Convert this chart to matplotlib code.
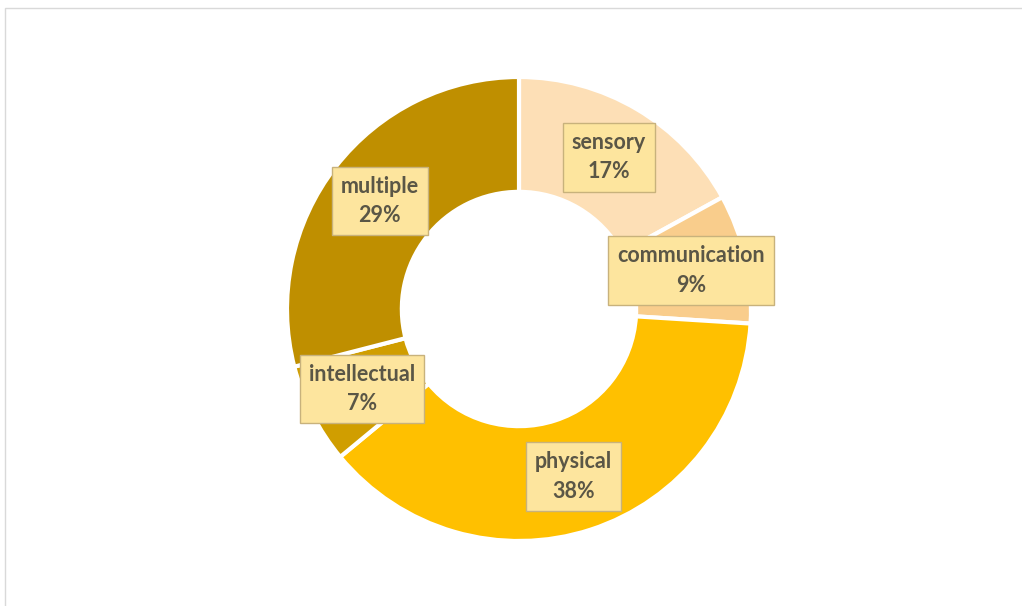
import matplotlib
matplotlib.use("Agg")
import matplotlib.pyplot as plt
from matplotlib.patches import Rectangle
import numpy as np

categories = ["sensory", "communication", "physical", "intellectual", "multiple"]
shares = [17, 9, 38, 7, 29]
colors = ["#FDDFB6", "#F9CD8C", "#FFC000", "#D09E00", "#BF8F00"]

W, H = 1022, 606
fig = plt.figure(figsize=(W / 100, H / 100), dpi=100)
fig.patch.set_facecolor("white")

# chart-area frame
fig.add_artist(Rectangle((5 / W, -0.01), 1.02, (H - 8) / H + 0.01,
                         transform=fig.transFigure, fill=False,
                         edgecolor="#D9D9D9", linewidth=1.0))

# donut centre and outer radius in pixels
cx, cy, R = 519, 309, 232
ax = fig.add_axes([(cx - R) / W, (H - cy - R) / H, 2 * R / W, 2 * R / H])
ax.axis("off")

wedges, _ = ax.pie(shares, colors=colors, startangle=90, counterclock=False,
                   radius=1.0,
                   wedgeprops=dict(width=0.495, edgecolor="white", linewidth=3))
ax.set_xlim(-1, 1)
ax.set_ylim(-1, 1)
ax.set_aspect("equal")

for w, name, val in zip(wedges, categories, shares):
    ang = np.deg2rad((w.theta1 + w.theta2) / 2)
    r = 0.76
    ax.text(r * np.cos(ang), r * np.sin(ang), f"{name}\n{val}%",
            ha="center", va="center", fontsize=15.5, fontweight="bold",
            family=["Lato", "DejaVu Sans"], color="#5A5646",
            linespacing=1.5,
            bbox=dict(boxstyle="square,pad=0.42", facecolor="#FDE59E",
                      edgecolor="#C8B27C", linewidth=1.0))

fig.savefig("out.png", dpi=100)
